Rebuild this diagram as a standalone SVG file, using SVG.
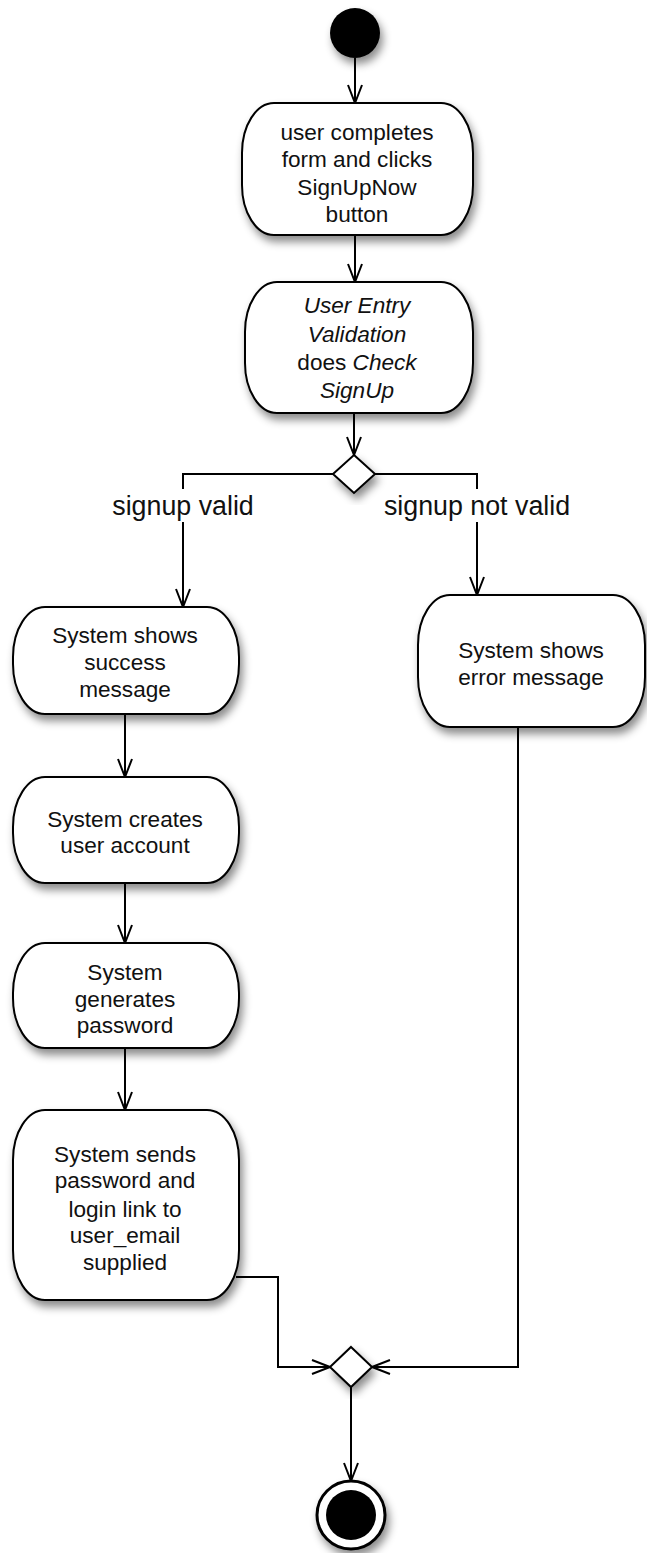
<svg xmlns="http://www.w3.org/2000/svg" width="647" height="1553" viewBox="0 0 647 1553">
<style>
.node{fill:#fff;stroke:#000;stroke-width:2;filter:url(#sh)}
.t{font-family:"Liberation Sans",Arial,sans-serif;font-size:22.6px;fill:#111;text-anchor:middle}
.i{font-style:italic}
.lbl{font-family:"Liberation Sans",Arial,sans-serif;font-size:26.8px;fill:#111;text-anchor:middle}
.c{fill:none;stroke:#000;stroke-width:2;marker-end:url(#arr)}
</style>
<defs>
<filter id="sh" x="-20%" y="-20%" width="150%" height="150%">
<feDropShadow dx="3" dy="6" stdDeviation="4.5" flood-color="#000" flood-opacity="0.45"/>
</filter>
<marker id="arr" viewBox="0 0 20 16" refX="19" refY="8" markerWidth="20" markerHeight="16" markerUnits="userSpaceOnUse" orient="auto">
<path d="M1,1 L19,8 L1,15" fill="none" stroke="#000" stroke-width="2"/>
</marker>
</defs>
<rect width="647" height="1553" fill="#fff"/>
<g id="connectors">
<path class="c" d="M355,58 V103"/>
<path class="c" d="M355,235 V282"/>
<path class="c" d="M354,413 V455"/>
<path class="c" d="M333,474 H183 V607"/>
<path class="c" d="M375,474 H477 V595"/>
<path class="c" d="M125,714 V777"/>
<path class="c" d="M125,883 V943"/>
<path class="c" d="M125,1048 V1110"/>
<path class="c" d="M236,1277 H278 V1367 H330"/>
<path class="c" d="M518,727 V1367 H372"/>
<path class="c" d="M351,1387 V1481"/>
<rect x="110" y="489" width="148" height="33" fill="#fff"/>
<text class="lbl" x="183" y="515">signup valid</text>
<rect x="380" y="489" width="195" height="33" fill="#fff"/>
<text class="lbl" x="477" y="515">signup not valid</text>
</g>
<g id="start"><circle cx="355" cy="33" r="25" fill="#000" filter="url(#sh)"/></g>
<g id="n1">
<rect class="node" x="242" y="103" width="231" height="132" rx="32" ry="50"/>
<text class="t" x="357" y="140">user completes</text>
<text class="t" x="357" y="167">form and clicks</text>
<text class="t" x="357" y="195">SignUpNow</text>
<text class="t" x="357" y="222">button</text>
</g>
<g id="n2">
<rect class="node" x="245" y="282" width="228" height="131" rx="32" ry="50"/>
<text class="t i" x="357" y="313">User Entry</text>
<text class="t i" x="357" y="342">Validation</text>
<text class="t" x="357" y="370">does <tspan class="i">Check</tspan></text>
<text class="t i" x="357" y="398">SignUp</text>
</g>
<g id="decision">
<polygon class="node" points="354,455 375,474 354,493 333,474"/>
</g>
<g id="n3">
<rect class="node" x="13" y="607" width="226" height="107" rx="32" ry="50"/>
<text class="t" x="125" y="643">System shows</text>
<text class="t" x="125" y="670">success</text>
<text class="t" x="125" y="697">message</text>
</g>
<g id="n4">
<rect class="node" x="13" y="777" width="226" height="106" rx="32" ry="50"/>
<text class="t" x="125" y="827">System creates</text>
<text class="t" x="125" y="853">user account</text>
</g>
<g id="n5">
<rect class="node" x="13" y="943" width="226" height="105" rx="32" ry="50"/>
<text class="t" x="125" y="980">System</text>
<text class="t" x="125" y="1007">generates</text>
<text class="t" x="125" y="1033">password</text>
</g>
<g id="n6">
<rect class="node" x="13" y="1110" width="226" height="190" rx="32" ry="50"/>
<text class="t" x="125" y="1162">System sends</text>
<text class="t" x="125" y="1188">password and</text>
<text class="t" x="125" y="1217">login link to</text>
<text class="t" x="125" y="1243">user_email</text>
<text class="t" x="125" y="1270">supplied</text>
</g>
<g id="n7">
<rect class="node" x="418" y="595" width="227" height="132" rx="32" ry="50"/>
<text class="t" x="531" y="658">System shows</text>
<text class="t" x="531" y="685">error message</text>
</g>
<g id="merge">
<polygon class="node" points="351,1347 372,1367 351,1387 330,1367"/>
</g>
<g id="end">
<circle cx="351" cy="1515" r="34" fill="#fff" stroke="#000" stroke-width="3" filter="url(#sh)"/>
<circle cx="351" cy="1515" r="25" fill="#000"/>
</g>
</svg>
